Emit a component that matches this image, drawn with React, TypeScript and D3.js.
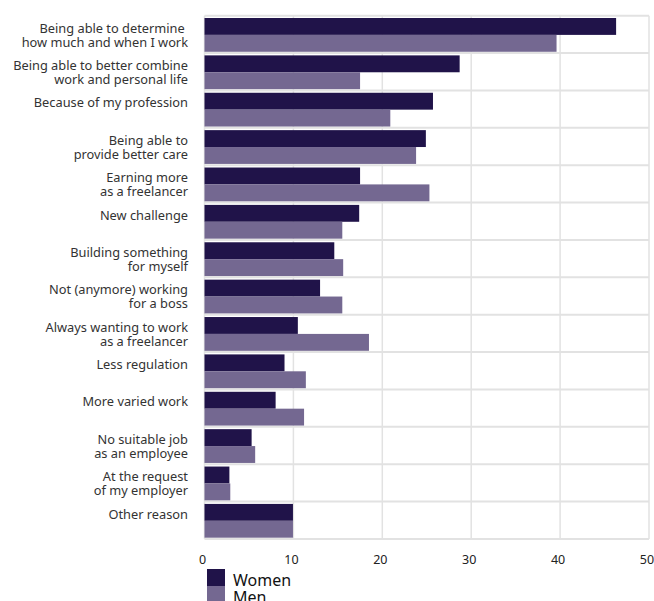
import React from "react";
import * as d3 from "d3";

const categories: string[][] = [
  ["Being able to determine ", "how much and when I work"],
  ["Being able to better combine", "work and personal life"],
  ["Because of my profession"],
  ["Being able to", "provide better care"],
  ["Earning more", "as a freelancer"],
  ["New challenge"],
  ["Building something", "for myself"],
  ["Not (anymore) working", "for a boss"],
  ["Always wanting to work", "as a freelancer"],
  ["Less regulation"],
  ["More varied work"],
  ["No suitable job", "as an employee"],
  ["At the request", "of my employer"],
  ["Other reason"],
];
const women = [46.3, 28.7, 25.7, 24.9, 17.5, 17.4, 14.6, 13.0, 10.5, 9.0, 8.0, 5.3, 2.8, 9.95];
const men = [39.6, 17.5, 20.9, 23.8, 25.3, 15.5, 15.6, 15.5, 18.5, 11.4, 11.2, 5.7, 2.9, 9.95];
const seriesNames = ["Women", "Men"];
const xTicks = [0, 10, 20, 30, 40, 50];

const COLORS = ["#201349", "#746891"];
const W = 654;
const H = 601;
const left = 204.5;
const right = 649;
const top = 15.7;
const bottom = 539;

export default function App() {
  const x = d3.scaleLinear().domain([0, 50]).range([left, right]);
  const idx = categories.map((_, i) => String(i));
  const y = d3.scaleBand().domain(idx).range([top, bottom]).paddingInner(0).paddingOuter(0);
  const inner = d3
    .scaleBand()
    .domain(seriesNames)
    .range([2.3, y.bandwidth() - 1.3])
    .padding(0);
  const series = [women, men];
  const font = "'Noto Sans', 'Open Sans', sans-serif";

  return (
    <svg
      width={W}
      height={H}
      style={{ position: "absolute", left: 0, top: 0, background: "#fff" }}
      fontFamily={font}
    >
      {xTicks.map((t) => (
        <line
          key={"v" + t}
          x1={x(t)}
          x2={x(t)}
          y1={top}
          y2={bottom}
          stroke="#e2e2e2"
          strokeWidth={1.5}
        />
      ))}
      {idx.concat([String(categories.length)]).map((k, i) => {
        const yy = i < categories.length ? (y(k) as number) : bottom;
        return (
          <line
            key={"h" + i}
            x1={left}
            x2={right}
            y1={yy}
            y2={yy}
            stroke="#e2e2e2"
            strokeWidth={2}
          />
        );
      })}
      {categories.map((_, i) =>
        series.map((s, j) => (
          <rect
            key={`b${i}-${j}`}
            x={x(0)}
            y={(y(String(i)) as number) + (inner(seriesNames[j]) as number)}
            width={x(s[i]) - x(0)}
            height={inner.bandwidth()}
            fill={COLORS[j]}
          />
        ))
      )}
      {categories.map((lines, i) => (
        <text
          key={"l" + i}
          x={188}
          textAnchor="end"
          fontSize={12.8}
          fill="#333"
          style={{ whiteSpace: "pre" }}
        >
          {lines.map((ln, k) => (
            <tspan key={k} x={188} y={(y(String(i)) as number) + 17 + k * 14}>
              {ln}
            </tspan>
          ))}
        </text>
      ))}
      {xTicks.map((t) => (
        <text
          key={"t" + t}
          x={x(t) - 2}
          y={564}
          textAnchor="middle"
          fontSize={12.5}
          fill="#222"
        >
          {t}
        </text>
      ))}
      {seriesNames.map((n, j) => (
        <g key={"lg" + n}>
          <rect x={207} y={569 + j * 17} width={18} height={17} fill={COLORS[j]} />
          <text x={233} y={586 + j * 16.5} fontSize={16} fill="#111">
            {n}
          </text>
        </g>
      ))}
    </svg>
  );
}
